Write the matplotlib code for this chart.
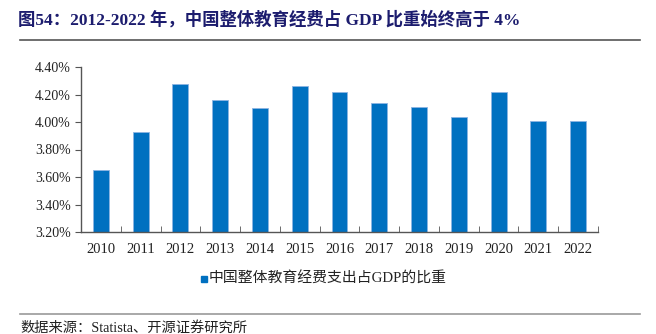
import matplotlib
matplotlib.use("Agg")
import matplotlib.pyplot as plt
from matplotlib.ticker import FixedLocator, FuncFormatter

plt.rcParams['font.family'] = ['Liberation Serif', 'Noto Sans CJK SC']

years = ["2010", "2011", "2012", "2013", "2014", "2015", "2016", "2017", "2018", "2019", "2020", "2021", "2022"]
values = [3.65, 3.93, 4.28, 4.16, 4.10, 4.26, 4.22, 4.14, 4.11, 4.04, 4.22, 4.01, 4.01]
series_name = "中国整体教育经费支出占GDP的比重"
title = "图54：2012-2022 年，中国整体教育经费占 GDP 比重始终高于 4%"
source = "数据来源：Statista、开源证券研究所"

fig = plt.figure(figsize=(6.56, 3.34), dpi=100)
ax = fig.add_axes([81/656, 1-232/334, (598-81)/656, (232-67)/334])

x = list(range(len(years)))
bars = ax.bar(x, [v - 3.2 for v in values], bottom=3.2, width=0.4,
              color='#0070C0', edgecolor='#8DB4E2', linewidth=0.6)

ax.set_ylim(3.2, 4.4)
ax.set_xlim(-0.5, len(years) - 0.5)
ax.set_yticks([3.2, 3.4, 3.6, 3.8, 4.0, 4.2, 4.4])
ax.yaxis.set_major_formatter(FuncFormatter(lambda v, p: f"{v:.2f}%"))
ax.set_xticks(x)
ax.set_xticklabels(years)
ax.xaxis.set_minor_locator(FixedLocator([i + 0.5 for i in range(-1, len(years))]))
ax.tick_params(axis='x', which='major', length=0, labelsize=10.5, pad=8, colors='#222222')
ax.tick_params(axis='x', which='minor', length=4, direction='in', color='#555555')
ax.tick_params(axis='y', length=4, direction='out', labelsize=10, color='#555555', labelcolor='#222222')
for s in ['top', 'right']:
    ax.spines[s].set_visible(False)
for s in ['left', 'bottom']:
    ax.spines[s].set_color('#555555')
    ax.spines[s].set_linewidth(1.0)

# legend
fig.patches.append(plt.Rectangle((201/656, 1-282/334), 6/656, 6/334, transform=fig.transFigure,
                                 color='#0070C0'))
fig.text(209/656, 1-279/334, series_name, fontsize=10.7, va='center', ha='left', color='#222222')

fig.text(18/656, 1-20/334, title, fontsize=12.5, fontweight='bold', color='#1C1C6E', va='center', ha='left')
fig.add_artist(plt.Line2D([20/656, 640/656], [1-40/334, 1-40/334], transform=fig.transFigure,
                          color='#555555', linewidth=1.2))
fig.add_artist(plt.Line2D([20/656, 640/656], [1-314/334, 1-314/334], transform=fig.transFigure,
                          color='#999999', linewidth=1.2))
fig.text(20/656, 1-328/334, source, fontsize=10.3, va='center', ha='left', color='#222222')

fig.savefig("out.png", dpi=100)
